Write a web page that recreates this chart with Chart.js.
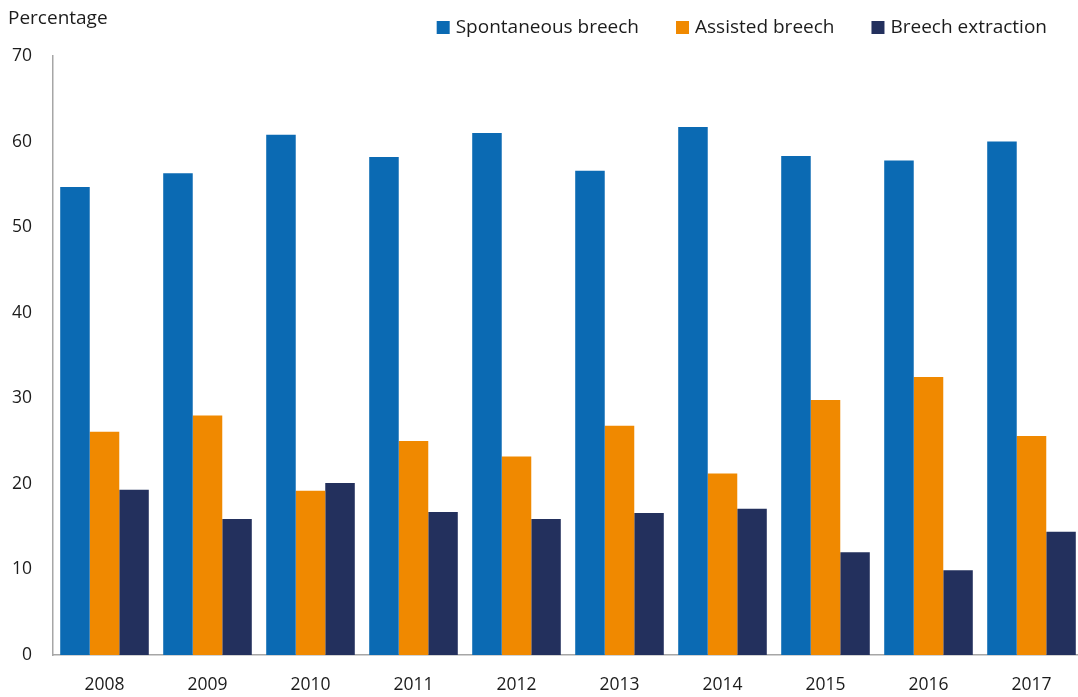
<!DOCTYPE html>
<html>
<head>
<meta charset="utf-8">
<script src="https://cdn.jsdelivr.net/npm/chart.js@4"></script>
<style>
  html, body { margin: 0; padding: 0; background: #fff; overflow: hidden; }
  #grafico { display: block; }
</style>
</head>
<body>
<canvas id="grafico" width="1083" height="697"></canvas>
<script>
const anos = ["2008", "2009", "2010", "2011", "2012", "2013", "2014", "2015", "2016", "2017"];
const espontaneo = [54.7, 56.3, 60.8, 58.2, 61.0, 56.6, 61.7, 58.3, 57.8, 60.0];
const assistido = [26.1, 28.0, 19.2, 25.0, 23.2, 26.8, 21.2, 29.8, 32.5, 25.6];
const extracao = [19.3, 15.9, 20.1, 16.7, 15.9, 16.6, 17.1, 12.0, 9.9, 14.4];
const ticksY = [0, 10, 20, 30, 40, 50, 60, 70];

const corTexto = "#1c1c1c";
const corEixo = "#a6a6a6";
const familia = "'Open Sans', 'Noto Sans', sans-serif";

// titulo do eixo e legenda desenhados à mão no topo
const topo = {
  id: "topo",
  afterDraw(chart) {
    const ctx = chart.ctx;
    ctx.save();
    ctx.textBaseline = "alphabetic";
    ctx.textAlign = "left";
    ctx.fillStyle = corTexto;
    ctx.font = "19px " + familia;
    ctx.fillText("Percentage", 8, 24);

    let x = 1047;
    chart.data.datasets.slice().reverse().forEach(ds => {
      const w = ctx.measureText(ds.label).width;
      x -= w;
      ctx.fillStyle = corTexto;
      ctx.fillText(ds.label, x, 33);
      ctx.fillStyle = ds.backgroundColor;
      ctx.fillRect(x - 19, 21, 13, 13);
      x -= 19 + 37;
    });
    ctx.restore();
  }
};

const grafico = new Chart(document.getElementById("grafico").getContext("2d"), {
  type: "bar",
  data: {
    labels: anos,
    datasets: [
      { label: "Spontaneous breech", data: espontaneo, backgroundColor: "#0b6ab3" },
      { label: "Assisted breech", data: assistido, backgroundColor: "#f08900" },
      { label: "Breech extraction", data: extracao, backgroundColor: "#23305d" },
    ],
  },
  options: {
    responsive: false,
    animation: false,
    layout: { padding: { top: 56, left: 0, right: 0, bottom: 0 } },
    datasets: { bar: { categoryPercentage: 0.86, barPercentage: 1 } },
    plugins: { legend: { display: false }, tooltip: { enabled: false } },
    scales: {
      x: {
        grid: { display: false, drawTicks: false },
        border: { display: true, color: corEixo, width: 1.5 },
        ticks: { color: corTexto, font: { family: familia, size: 17.5 }, padding: 20 },
        afterFit: (s) => { s.height = 42; },
      },
      y: {
        min: 0,
        max: 70,
        afterBuildTicks: (s) => { s.ticks = ticksY.map(v => ({ value: v })); },
        grid: { display: false, drawTicks: false },
        border: { display: true, color: corEixo, width: 1.5 },
        ticks: { color: corTexto, font: { family: familia, size: 17.5 }, padding: 21 },
        afterFit: (s) => { s.width = 53; },
      },
    },
  },
  plugins: [topo],
});
</script>
</body>
</html>
